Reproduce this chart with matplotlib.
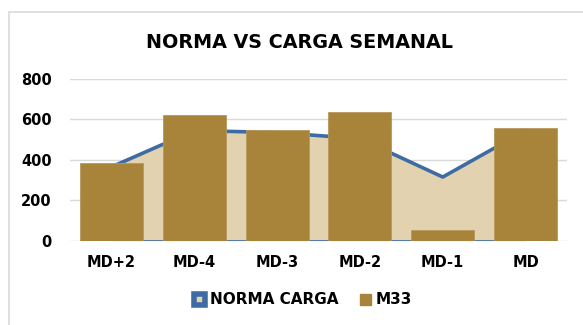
import matplotlib.pyplot as plt
from matplotlib.patches import Patch, Rectangle
import numpy as np

# weekly load vs norm
sesiones = ['MD+2', 'MD-4', 'MD-3', 'MD-2', 'MD-1', 'MD']
norma_carga = [365, 545, 535, 505, 315, 545]
m33 = [385, 623, 546, 637, 53, 557]

azul = '#3F6BA3'
beige = '#E3D2AF'
marron = '#A8833A'

fig = plt.figure(figsize=(5.83, 3.25), dpi=100)
fig.patches.append(Rectangle((9 / 583, -0.1), 1.2, 1.1 - 12 / 325, transform=fig.transFigure,
                             fill=False, edgecolor='#D9D9D9', linewidth=1.2))

ax = fig.add_axes([70 / 583, 1 - 240.7 / 325, 497 / 583, (240.7 - 79) / 325])
x = np.arange(len(sesiones))

ax.fill_between(x, 0, norma_carga, color=beige, linewidth=0, zorder=1)
ax.plot(x, norma_carga, color=azul, linewidth=2.6, zorder=2, solid_joinstyle='round')
ax.plot([x[0], x[-1]], [0, 0], color=azul, linewidth=1.2, zorder=2)
ax.bar(x, m33, width=0.76, color=marron, edgecolor='#B8975A', linewidth=0.6, zorder=3)

ax.set_xlim(-0.5, len(sesiones) - 0.5)
ax.set_ylim(0, 800)
ax.set_yticks([0, 200, 400, 600, 800])
ax.yaxis.grid(True, color='#D9D9D9', linewidth=1, zorder=0)
ax.set_axisbelow(True)
for s in ax.spines.values():
    s.set_visible(False)
ax.tick_params(length=0)
ax.tick_params(axis='y', pad=13)
ax.tick_params(axis='x', pad=10)
ax.set_xticks(x)
ax.set_xticklabels(sesiones)
for lbl in ax.get_xticklabels() + ax.get_yticklabels():
    lbl.set_fontweight('bold')
    lbl.set_fontsize(10.5)

fig.text(0.513, 1 - 42 / 325, 'NORMA VS CARGA SEMANAL', ha='center', va='center',
         fontsize=13.8, fontweight='bold')

handles = [Patch(facecolor=beige, edgecolor=azul, linewidth=4, label='NORMA CARGA'),
           Patch(facecolor=marron, edgecolor=marron, label='M33')]
fig.legend(handles=handles, loc='center', bbox_to_anchor=(0.52, 1 - 300 / 325), ncol=2,
           frameon=False, handlelength=0.75, handleheight=0.75, handletextpad=0.3,
           columnspacing=1.4, prop={'weight': 'bold', 'size': 11})

fig.savefig('out.png', dpi=100)
